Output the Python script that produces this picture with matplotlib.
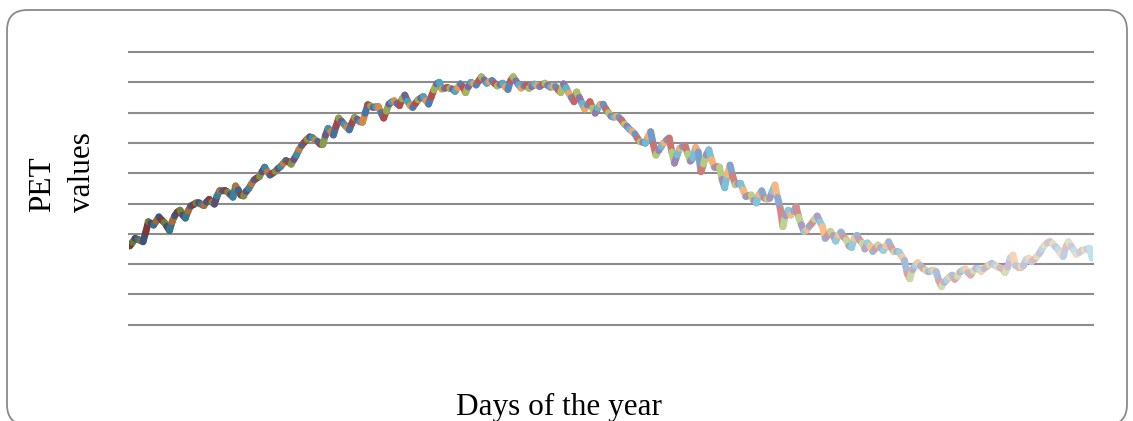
import numpy as np
import matplotlib
matplotlib.use("Agg")
import matplotlib.pyplot as plt
from matplotlib.collections import LineCollection
from matplotlib.patches import FancyBboxPatch
import matplotlib.colors as mcolors

# daily PET values (grid unit = 1)
pet = [
    2.60, 2.72, 2.85, 2.82, 2.78, 2.74, 3.05, 3.40, 3.35, 3.29,
    3.42, 3.56, 3.46, 3.38, 3.25, 3.11, 3.40, 3.60, 3.72, 3.78,
    3.62, 3.52, 3.75, 3.92, 3.96, 4.02, 4.03, 3.98, 3.93, 4.05,
    4.14, 4.05, 3.98, 4.25, 4.43, 4.42, 4.43, 4.38, 4.30, 4.21,
    4.58, 4.45, 4.28, 4.25, 4.40, 4.50, 4.65, 4.78, 4.84, 4.89,
    5.05, 5.20, 5.05, 4.94, 5.00, 5.06, 5.15, 5.22, 5.32, 5.42,
    5.38, 5.30, 5.45, 5.60, 5.78, 5.92, 6.02, 6.12, 6.20, 6.18,
    6.10, 6.05, 5.96, 5.95, 6.25, 6.48, 6.38, 6.26, 6.55, 6.82,
    6.72, 6.62, 6.52, 6.43, 6.65, 6.84, 6.78, 6.70, 6.68, 6.98,
    7.26, 7.22, 7.17, 7.19, 7.20, 7.00, 6.82, 7.05, 7.28, 7.35,
    7.39, 7.30, 7.23, 7.45, 7.58, 7.38, 7.24, 7.17, 7.30, 7.42,
    7.48, 7.53, 7.40, 7.28, 7.52, 7.75, 7.95, 8.00, 7.78, 7.80,
    7.83, 7.80, 7.78, 7.70, 7.82, 7.95, 7.85, 7.66, 7.85, 8.00,
    7.96, 7.91, 8.05, 8.18, 8.08, 7.97, 8.02, 8.06, 7.96, 7.88,
    7.93, 7.97, 7.85, 7.76, 8.05, 8.18, 8.05, 7.92, 7.81, 7.88,
    7.90, 7.80, 7.86, 7.94, 7.90, 7.86, 7.92, 7.97, 7.90, 7.84,
    7.85, 7.86, 7.75, 7.66, 7.95, 7.82, 7.64, 7.50, 7.36, 7.68,
    7.50, 7.31, 7.12, 7.25, 7.36, 7.15, 6.98, 7.15, 7.28, 7.28,
    7.12, 7.00, 6.88, 6.85, 6.87, 6.84, 6.75, 6.62, 6.55, 6.45,
    6.38, 6.30, 6.15, 6.04, 6.02, 5.99, 6.20, 6.37, 5.95, 5.60,
    5.75, 5.88, 6.00, 6.10, 6.16, 5.70, 5.33, 5.60, 5.82, 5.88,
    5.91, 5.65, 5.40, 5.50, 5.85, 5.70, 5.05, 5.30, 5.60, 5.77,
    5.45, 5.22, 5.22, 5.20, 4.80, 4.52, 4.95, 5.27, 4.92, 4.62,
    4.66, 4.67, 4.45, 4.23, 4.26, 4.28, 4.10, 4.02, 4.30, 4.42,
    4.18, 4.15, 4.17, 4.40, 4.61, 4.20, 3.84, 3.24, 3.60, 3.78,
    3.62, 3.75, 3.90, 3.55, 3.30, 3.08, 3.12, 3.25, 3.35, 3.48,
    3.59, 3.40, 3.24, 2.85, 2.95, 3.08, 2.95, 2.76, 2.95, 3.06,
    2.90, 2.80, 2.60, 2.55, 2.85, 2.95, 2.80, 2.70, 2.50, 2.70,
    2.60, 2.42, 2.52, 2.63, 2.55, 2.45, 2.60, 2.74, 2.55, 2.41,
    2.42, 2.40, 2.25, 2.12, 1.70, 1.52, 1.82, 1.95, 2.05, 1.95,
    1.86, 1.80, 1.75, 1.78, 1.80, 1.75, 1.45, 1.26, 1.40, 1.48,
    1.58, 1.64, 1.50, 1.60, 1.74, 1.80, 1.84, 1.72, 1.64, 1.78,
    1.86, 1.85, 1.76, 1.85, 1.92, 1.98, 2.03, 1.97, 1.92, 1.88,
    1.86, 1.72, 1.90, 2.20, 2.30, 1.95, 1.92, 1.92, 1.95, 2.15,
    2.20, 2.08, 2.15, 2.25, 2.35, 2.50, 2.63, 2.70, 2.74, 2.68,
    2.58, 2.50, 2.35, 2.25, 2.55, 2.74, 2.60, 2.47, 2.32, 2.38,
    2.45, 2.47, 2.50, 2.52, 2.19,
]
days = np.arange(len(pet))

# Office accent colours, shaded dark -> light along the year ("vary colours by point")
accents = ['#4F81BD', '#C0504D', '#9BBB59', '#8064A2', '#4BACC6', '#F79646']


def point_colour(i, n):
    base = np.array(mcolors.to_rgb(accents[i % len(accents)]))
    t = -0.35 + 1.0 * i / (n - 1)
    if t < 0:
        return tuple(base * (1 + t))
    return tuple(base + (1 - base) * t)


fig = plt.figure(figsize=(11.33, 4.21), dpi=100)
ax = fig.add_axes([0.1139, 0.2285, 0.8508, 0.648])

# horizontal gridlines only
for g in range(10):
    ax.axhline(g, color='#8c8c8c', lw=1.5, zorder=1, clip_on=False)

pts = np.column_stack([days, pet])
segs = np.stack([pts[:-1], pts[1:]], axis=1)
cols = [point_colour(i + 1, len(pet)) for i in range(len(segs))]
lc = LineCollection(segs, colors=cols, linewidths=5.0, capstyle='round',
                    joinstyle='round', zorder=3)
ax.add_collection(lc)

ax.set_xlim(-0.3, len(pet) - 1 + 0.3)
ax.set_ylim(0, 9)
ax.set_xticks([])
ax.set_yticks([])
for s in ax.spines.values():
    s.set_visible(False)

# rounded chart border (bottom edge runs just off the image)
border = FancyBboxPatch((7 / 1133, -4 / 421), 1120 / 1133, 415 / 421,
                        boxstyle='round,pad=0,rounding_size=0.018',
                        transform=fig.transFigure, fill=False,
                        edgecolor='#8a8a8a', lw=1.3, mutation_aspect=1133 / 421)
fig.patches.append(border)

fig.text(0.0555, 0.4964, 'PET\nvalues', rotation=90, ha='center', va='bottom',
         multialignment='left', linespacing=1.5, fontsize=22.5,
         family='Liberation Serif')
fig.text(0.4934, 0.0142, 'Days of the year', ha='center', va='baseline',
         fontsize=22.5, family='Liberation Serif')

fig.savefig('out.png', dpi=100)
